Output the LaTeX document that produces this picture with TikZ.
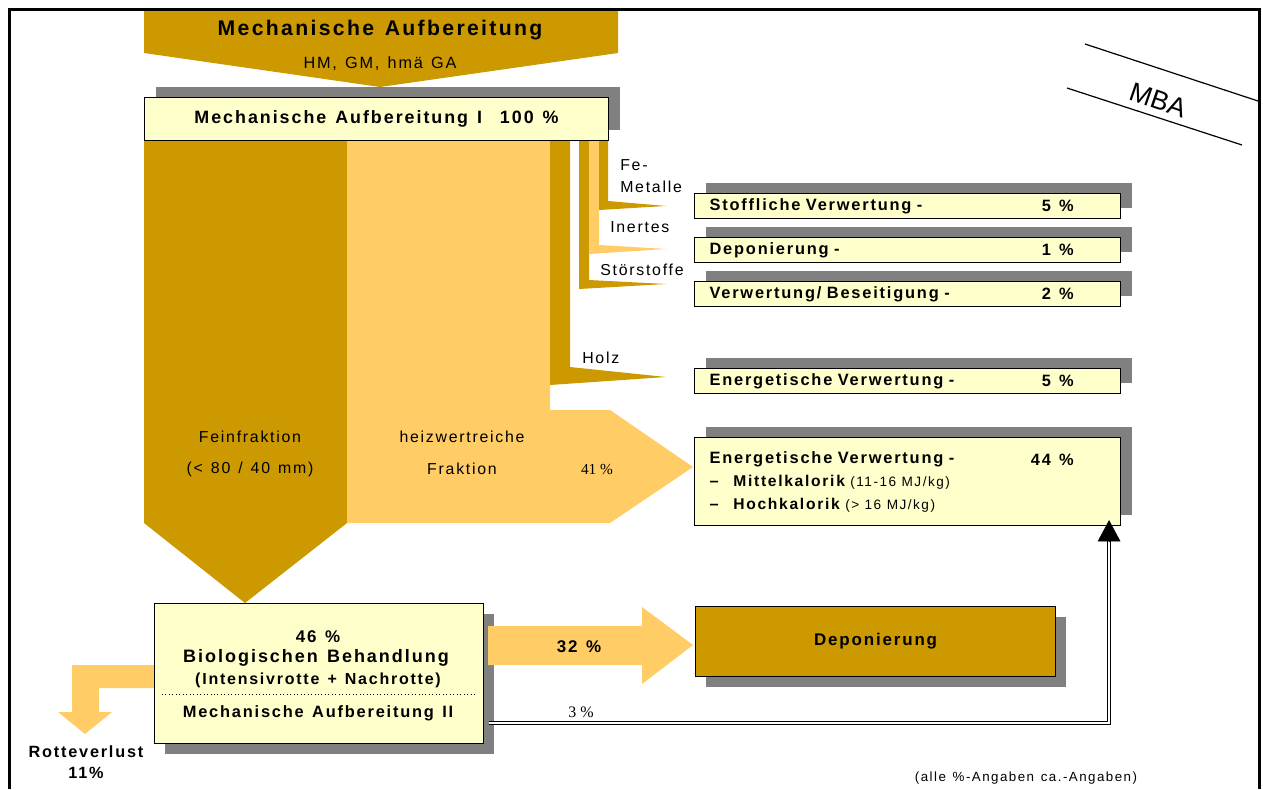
\documentclass[tikz,border=0pt]{standalone}
\usepackage{fontspec}
\setmainfont[LetterSpace=11,WordSpace=1.3]{Liberation Sans}
\newfontfamily\timesfont{Liberation Serif}
\newfontfamily\plainsans{Liberation Sans}
\usetikzlibrary{arrows.meta,shadows}

\definecolor{gold}{RGB}{204,153,0}
\definecolor{lightgold}{RGB}{255,204,102}
\definecolor{paleyellow}{RGB}{255,255,204}
\definecolor{shadowgray}{RGB}{128,128,128}

\begin{document}
\begin{tikzpicture}[x=0.75pt,y=-0.75pt]
            \tikzset{
                box/.style={draw, line width=0.8pt, fill=paleyellow, anchor=north west},
                upshadow/.style={drop shadow={shadow xshift=8.25pt, shadow yshift=8.25pt, fill=shadowgray, opacity=1}},
                downshadow/.style={drop shadow={shadow xshift=7.75pt, shadow yshift=-7.75pt, fill=shadowgray, opacity=1}},
                outbox/.style={box, upshadow, minimum height=18.75pt, text width=297pt, inner xsep=11.25pt, inner ysep=0pt, align=left, font=\bfseries\fontsize{12.3}{17.25}\selectfont},
                pct/.style={anchor=east, inner sep=0pt, font=\bfseries\fontsize{12.3}{14}\selectfont},
                flowtext/.style={inner sep=0pt, font=\fontsize{11.9}{16.5}\selectfont},
                boldtext/.style={inner sep=0pt, font=\bfseries\fontsize{12.7}{15.75}\selectfont},
                numtext/.style={inner sep=0pt, font=\timesfont\fontsize{11.5}{13}\selectfont},
                dline/.style={double, double distance=1.5pt, line width=0.6pt},
                tipline/.style={line width=0.6pt, -{Triangle[width=17pt,length=16pt]}}
            }
            \useasboundingbox (0,0) rectangle (1263,789);

            % flows
            \fill[gold] (144,9) -- (618,9) -- (618,53) -- (380,87) -- (144,53) -- cycle;
            \fill[gold] (144,140) -- (347,140) -- (347,523) -- (245,603) -- (144,523) -- cycle;
            \fill[lightgold] (347,140) -- (550,140) -- (550,410) -- (610,410) -- (693,467) -- (610,523) -- (347,523) -- cycle;
            \fill[gold] (550,140) -- (570,140) -- (570,367) -- (666,377) -- (550,385) -- cycle;
            \fill[gold] (579,140) -- (589,140) -- (589,280) -- (666,284) -- (579,289) -- cycle;
            \fill[lightgold] (589,140) -- (599,140) -- (599,245) -- (666,249) -- (589,254) -- cycle;
            \fill[gold] (599,140) -- (608,140) -- (608,201) -- (666,206) -- (599,210) -- cycle;
            \fill[lightgold] (154,665) -- (72,665) -- (72,712) -- (58,712) -- (85,734) -- (112,712) -- (99,712) -- (99,688) -- (154,688) -- cycle;

            % boxes
            \node[box, upshadow, minimum width=348pt, minimum height=32.25pt, inner sep=0pt, font=\bfseries\fontsize{13.4}{15}\selectfont] (mech1) at (144,97) {Mechanische Aufbereitung I\quad 100 \%};
            \node[outbox] (stoff) at (694,193) {Stoffliche Verwertung -};
            \node[outbox] (depo) at (694,237) {Deponierung -};
            \node[outbox] (besei) at (694,281) {Verwertung/ Beseitigung -};
            \node[outbox] (holzbox) at (694,368) {Energetische Verwertung -};
            \node[outbox, minimum height=66pt] (energ) at (694,437) {Energetische Verwertung -\\
                –\hspace{11pt}{\fontsize{11.7}{17.25}\selectfont Mittelkalorik} {\mdseries\fontsize{10.2}{17.25}\selectfont (11-16 MJ/kg)}\\
                –\hspace{11pt}{\fontsize{11.7}{17.25}\selectfont Hochkalorik} {\mdseries\fontsize{10.2}{17.25}\selectfont (> 16 MJ/kg)}};
            \node[box, downshadow, minimum width=246.75pt, minimum height=105pt] (bio) at (154,603) {};
            \node[box, downshadow, fill=gold, minimum width=270pt, minimum height=52.5pt, font=\bfseries\fontsize{12.7}{15}\selectfont] (deponie) at (695,606) {Deponierung};

            % percentages
            \node[pct] (stoffp) at ([xshift=-35.25pt]stoff.east) {5 \%};
            \node[pct] (depop) at ([xshift=-35.25pt]depo.east) {1 \%};
            \node[pct] (beseip) at ([xshift=-35.25pt]besei.east) {2 \%};
            \node[pct] (holzboxp) at ([xshift=-35.25pt]holzbox.east) {5 \%};
            \node[pct] (energp) at ([xshift=-35.25pt,yshift=-17.25pt]energ.north east) {44 \%};

            % texts
            \node[inner sep=0pt, font=\bfseries\fontsize{15.9}{18}\selectfont] (title) at (380,30) {Mechanische Aufbereitung};
            \node[inner sep=0pt, font=\fontsize{12.2}{14}\selectfont] (titlesub) at (380,64) {HM, GM, hmä GA};
            \node[flowtext, anchor=west, align=left] (fe) at (620,176) {Fe-\\Metalle};
            \node[flowtext, anchor=west] (inert) at (610,227) {Inertes};
            \node[flowtext, anchor=west] (stoer) at (600,270) {Störstoffe};
            \node[flowtext, anchor=west] (holz) at (582,358) {Holz};
            \node[flowtext] (fein1) at (250,437) {Feinfraktion};
            \node[flowtext] (fein2) at (250,469) {(< 80 / 40 mm)};
            \node[flowtext] (heiz1) at (462,437) {heizwertreiche};
            \node[flowtext] (heiz2) at (462,469) {Fraktion};
            \node[numtext] (heizp) at (597,469) {41 \%};
            \node[boldtext] (bio1) at (318,637) {46 \%};
            \node[boldtext, font=\bfseries\fontsize{13.5}{15}\selectfont] (bio2) at (316,658) {Biologischen Behandlung};
            \node[boldtext, font=\bfseries\fontsize{12}{14}\selectfont] (bio3) at (318,680) {(Intensivrotte + Nachrotte)};
            \node[boldtext, font=\bfseries\fontsize{12.3}{14}\selectfont] (bio4) at (318,713) {Mechanische Aufbereitung II};
            \draw[dotted, line width=0.6pt] (162,694) -- (476,694);
            \node[boldtext, align=center, font=\bfseries\fontsize{12.2}{15.75}\selectfont] (rotte) at (86,762) {Rotteverlust\\11\%};
            \node[inner sep=0pt, font=\fontsize{10}{12}\selectfont] (note) at (1026,778) {(alle \%-Angaben ca.-Angaben)};

            % arrows
            \fill[lightgold] (488,626) -- (642,626) -- (642,607) -- (693,645) -- (642,684) -- (642,665) -- (488,665) -- cycle;
            \node[boldtext] (arrowp) at (579,647) {32 \%};
            \coordinate (rest) at ([xshift=3.75pt,yshift=-0.75pt]bio.east |- 0,722);
            \coordinate (restup) at ([xshift=-9pt,yshift=-11.25pt]energ.south east);
            \draw[dline] (rest) -| (restup);
            \draw[tipline] (restup) -- ([xshift=-9pt,yshift=4.5pt]energ.south east);
            \node[numtext, font=\timesfont\fontsize{12}{14}\selectfont] (restp) at (581,712) {3 \%};

            % MBA
            \draw[line width=0.9pt] (1085,44) -- (1258,101);
            \draw[line width=0.9pt] (1067,88) -- (1242,145);
            \node[inner sep=0pt, rotate=-19, font=\plainsans\fontsize{20}{22}\selectfont] (mba) at (1158,100) {MBA};

            % frame
            \draw[line width=2.25pt] (9,789) -- (9,9) -- (1259,9) -- (1259,789);
\end{tikzpicture}
\end{document}
